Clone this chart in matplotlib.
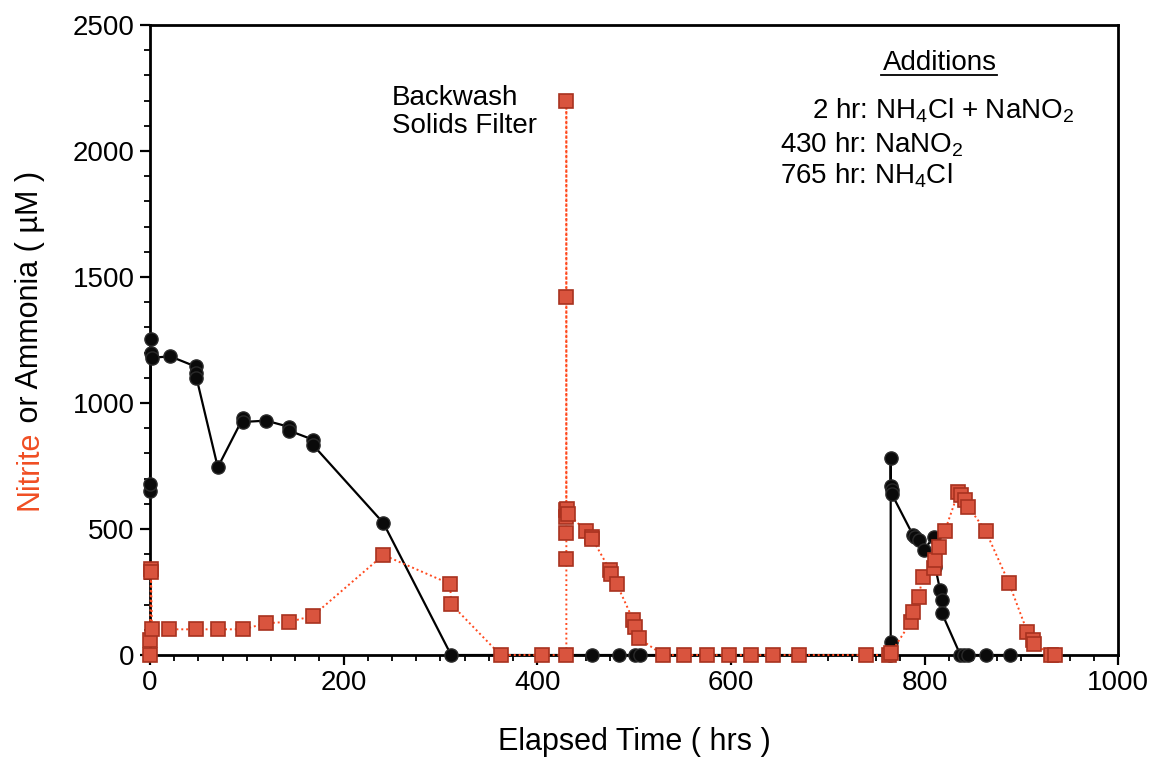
import matplotlib
matplotlib.use('Agg')
import matplotlib.pyplot as plt

plt.rcParams['font.family'] = ['Liberation Sans', 'DejaVu Sans']
plt.rcParams['mathtext.fontset'] = 'custom'
plt.rcParams['mathtext.rm'] = 'Liberation Sans'
plt.rcParams['mathtext.it'] = 'Liberation Sans:italic'

# ammonia (black circles)
amm_t = [0, 0, 1, 1, 2, 21, 47, 47, 48, 70, 96, 96, 120, 144, 144, 168, 168,
         241, 311, 456, 484, 501, 506, 764, 765, 765, 765, 766, 766, 788, 790,
         794, 799, 810, 811, 816, 818, 818, 837, 841, 845, 863, 888]
amm_v = [650, 680, 1255, 1200, 1180, 1185, 1145, 1120, 1100, 745, 940, 925,
         930, 905, 890, 855, 835, 524, 0, 0, 0, 0, 0, 0, 50, 780, 670, 655,
         640, 476, 470, 457, 417, 470, 350, 258, 218, 165, 0, 0, 0, 0, 0]

# nitrite (red squares)
nit_t = [0, 0, 1, 1, 2, 20, 47, 70, 96, 120, 144, 168, 241, 310, 311, 362,
         405, 430, 430, 430, 430, 430, 430, 430, 431, 432, 450, 456, 457, 475,
         476, 482, 499, 501, 505, 530, 552, 575, 598, 621, 643, 670, 740, 763,
         765, 786, 788, 794, 798, 810, 811, 815, 821, 835, 838, 842, 845, 863,
         887, 906, 912, 913, 931, 935]
nit_v = [0, 60, 340, 330, 102, 102, 102, 102, 102, 126, 132, 155, 397, 282,
         202, 0, 0, 0, 380, 483, 549, 2200, 1420, 575, 578, 560, 493, 470, 460,
         337, 320, 282, 139, 112, 66, 0, 0, 0, 0, 0, 0, 0, 0, 0, 7, 132, 172,
         232, 311, 344, 377, 430, 493, 648, 635, 615, 589, 493, 287, 93, 60,
         45, 0, 0]

fig = plt.figure(figsize=(11.54, 7.59), dpi=100)
ax = fig.add_axes([0.130, 0.137, 0.839, 0.830])

ax.plot(amm_t, amm_v, color='black', linewidth=1.6, marker='o',
        markersize=9.5, markerfacecolor='#0a0a0a', markeredgecolor='#2a2a2a',
        clip_on=False, zorder=3)
ax.plot(nit_t, nit_v, color='#ff4a1f', linewidth=1.4, linestyle=(0, (1, 1.5)),
        marker='s', markersize=10.5, markerfacecolor='#d9543e',
        markeredgecolor='#a8321f', markeredgewidth=1.2, clip_on=False, zorder=4)

ax.set_xlim(0, 1000)
ax.set_ylim(0, 2500)
ax.set_xticks([0, 200, 400, 600, 800, 1000])
ax.set_xticks(range(0, 1001, 25), minor=True)
ax.set_yticks([0, 500, 1000, 1500, 2000, 2500])
ax.set_yticks(range(0, 2501, 100), minor=True)
ax.tick_params(which='major', direction='out', length=7, width=1.6,
               labelsize=20, pad=4)
ax.tick_params(which='minor', direction='out', length=4, width=1.3)
for s in ax.spines.values():
    s.set_linewidth(2)

ax.set_xlabel('Elapsed Time ( hrs )', fontsize=22, labelpad=22)

t1 = ax.text(-0.124, 0.23, 'Nitrite', color='#f04e23', fontsize=22,
             rotation=90, ha='center', va='bottom', transform=ax.transAxes)
ax.annotate(' or Ammonia ( µM )', xy=(0.5, 1), xycoords=t1, fontsize=22,
            rotation=90, ha='center', va='bottom', color='black')

ax.text(0.25, 0.905, 'Backwash\nSolids Filter', fontsize=20, ha='left',
        va='top', linespacing=1.1, transform=ax.transAxes)

ax.text(0.816, 0.929, 'Additions', fontsize=20, ha='center', va='baseline',
        transform=ax.transAxes)
ax.plot([0.755, 0.875], [0.921, 0.921], color='black', linewidth=1.3,
        transform=ax.transAxes, clip_on=False)
ax.text(0.684, 0.851, '2 hr: NH$_4$Cl + NaNO$_2$', fontsize=20,
        ha='left', va='baseline', transform=ax.transAxes)
ax.text(0.651, 0.798, '430 hr: NaNO$_2$', fontsize=20,
        ha='left', va='baseline', transform=ax.transAxes)
ax.text(0.651, 0.748, '765 hr: NH$_4$Cl', fontsize=20,
        ha='left', va='baseline', transform=ax.transAxes)

fig.savefig('out.png', dpi=100)
